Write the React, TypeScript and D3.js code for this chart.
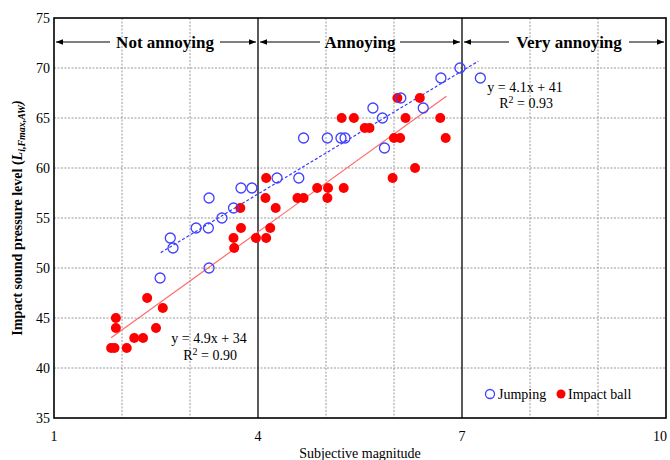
import React from 'react';
import { scaleLinear, line } from 'd3';

/* jumping: subjective magnitude vs level */
const jumpX = [2.56, 2.71, 2.75, 3.09, 3.27, 3.28, 3.28, 3.47, 3.64, 3.75, 3.91, 4.28, 4.6, 4.67, 5.02, 5.22, 5.28, 5.69, 5.83, 5.86, 6.1, 6.43, 6.69, 6.97, 7.27];
const jumpY = [49, 53, 52, 54, 54, 57, 50, 55, 56, 58, 58, 59, 59, 63, 63, 63, 63, 66, 65, 62, 67, 66, 69, 70, 69];
/* impact ball */
const ballX = [1.84, 1.89, 1.91, 1.91, 2.07, 2.18, 2.31, 2.37, 2.5, 2.6, 3.64, 3.65, 3.74, 3.75, 3.97, 4.11, 4.12, 4.12, 4.18, 4.26, 4.58, 4.67, 4.87, 5.02, 5.03, 5.23, 5.26, 5.41, 5.57, 5.64, 5.98, 6.0, 6.05, 6.09, 6.17, 6.31, 6.38, 6.68, 6.76];
const ballY = [42, 42, 45, 44, 42, 43, 43, 47, 44, 46, 53, 52, 56, 54, 53, 57, 59, 53, 54, 56, 57, 57, 58, 57, 58, 65, 58, 65, 64, 64, 59, 63, 67, 63, 65, 60, 67, 65, 63];

const xTicks = [1, 4, 7, 10];
const xGrid = [2, 3, 5, 6, 8, 9];
const yTicks = [35, 40, 45, 50, 55, 60, 65, 70, 75];
const zones = ['Not annoying', 'Annoying', 'Very annoying'];
const zoneBounds = [1, 4, 7, 10];

/* trend lines: slope, intercept, x range */
const jumpFit = { a: 4.1, b: 41, from: 2.57, to: 7.24, label: 'y = 4.1x + 41', r2: '0.93' };
const ballFit = { a: 4.9, b: 34, from: 1.84, to: 6.77, label: 'y = 4.9x + 34', r2: '0.90' };

const font = '"Liberation Serif", "Times New Roman", serif';

const App = () => {
    const x = scaleLinear().domain([1, 10]).range([54, 666]);
    const y = scaleLinear().domain([35, 75]).range([418, 18]);
    const fitLine = line<number[]>().x(d => x(d[0])).y(d => y(d[1]));
    const fitPts = (f: typeof jumpFit) => [[f.from, f.a * f.from + f.b], [f.to, f.a * f.to + f.b]];
    const arrowY = y(72.6);

    return (
        <svg width={670} height={460} style={{ position: 'absolute', left: 0, top: 0, fontFamily: font }}>
            <defs>
                <marker id='ah' viewBox='0 0 10 10' refX='10' refY='5' markerWidth='7' markerHeight='7' orient='auto-start-reverse'>
                    <path d='M0,1 L10,5 L0,9 z' fill='#000' />
                </marker>
            </defs>
            <rect x={54} y={18} width={612} height={400} fill='#fff' />
            {/* grid */}
            {yTicks.slice(1, -1).map(t => (
                <line key={'gy' + t} x1={54} x2={666} y1={y(t)} y2={y(t)} stroke='#999' strokeDasharray='2,1.5' strokeWidth={1} />
            ))}
            {xGrid.map(t => (
                <line key={'gx' + t} x1={x(t)} x2={x(t)} y1={18} y2={418} stroke='#999' strokeDasharray='2,1.5' strokeWidth={1} />
            ))}
            {[4, 7].map(t => (
                <line key={'b' + t} x1={x(t)} x2={x(t)} y1={18} y2={418} stroke='#000' strokeWidth={1.3} />
            ))}
            {/* zone arrows */}
            {zones.map((z, i) => {
                const x0 = x(zoneBounds[i]) + 2, x1 = x(zoneBounds[i + 1]) - 2;
                const cx = i === 0 ? 165 : (x0 + x1) / 2 + (i === 2 ? 5 : 0);
                const half = [52, 37, 57][i];
                return (
                    <g key={z}>
                        <line x1={cx - half - 3} x2={x0} y1={arrowY} y2={arrowY} stroke='#000' strokeWidth={1} markerEnd='url(#ah)' />
                        <line x1={cx + half + 3} x2={x1} y1={arrowY} y2={arrowY} stroke='#000' strokeWidth={1} markerEnd='url(#ah)' />
                        <text x={cx} y={arrowY + 6} textAnchor='middle' fontSize={17} fontWeight='bold'>{z}</text>
                    </g>
                );
            })}
            {/* trend lines */}
            <path d={fitLine(fitPts(ballFit) as any) || ''} stroke='#ff6b6b' strokeWidth={1.2} fill='none' />
            <path d={fitLine(fitPts(jumpFit) as any) || ''} stroke='#3a3aff' strokeWidth={1.2} strokeDasharray='3,2' fill='none' />
            {/* points */}
            {ballX.map((v, i) => (
                <circle key={'r' + i} cx={x(v)} cy={y(ballY[i])} r={5} fill='#ff0000' />
            ))}
            {jumpX.map((v, i) => (
                <circle key={'j' + i} cx={x(v)} cy={y(jumpY[i])} r={5} fill='none' stroke='#4040ff' strokeWidth={1.3} />
            ))}
            {/* equations */}
            <text x={525} y={92} textAnchor='middle' fontSize={14}>{jumpFit.label}</text>
            <text x={526} y={108} textAnchor='middle' fontSize={14}>R<tspan dy={-5} fontSize={10}>2</tspan><tspan dy={5}> = {jumpFit.r2}</tspan></text>
            <text x={209} y={343} textAnchor='middle' fontSize={14}>{ballFit.label}</text>
            <text x={210} y={360} textAnchor='middle' fontSize={14}>R<tspan dy={-5} fontSize={10}>2</tspan><tspan dy={5}> = {ballFit.r2}</tspan></text>
            {/* legend */}
            <circle cx={490} cy={394} r={4.5} fill='none' stroke='#4040ff' strokeWidth={1.3} />
            <text x={498} y={399} fontSize={14}>Jumping</text>
            <circle cx={561} cy={394} r={4.5} fill='#ff0000' />
            <text x={568} y={399} fontSize={14}>Impact ball</text>
            {/* frame */}
            <rect x={54} y={18} width={612} height={400} fill='none' stroke='#000' strokeWidth={1.6} />
            {/* axes labels */}
            {yTicks.map(t => (
                <text key={'yt' + t} x={50} y={y(t) + 5} textAnchor='end' fontSize={14}>{t}</text>
            ))}
            {xTicks.map(t => (
                <text key={'xt' + t} x={t === 10 ? 660 : x(t)} y={441} textAnchor='middle' fontSize={14}>{t}</text>
            ))}
            <text x={360} y={458} textAnchor='middle' fontSize={14}>Subjective magnitude</text>
            <text transform='translate(22,218) rotate(-90)' textAnchor='middle' fontSize={14} fontWeight='bold'>
                Impact sound pressure level (<tspan fontStyle='italic'>L</tspan>
                <tspan fontStyle='italic' fontSize={10} dy={3}>i,Fmax,AW</tspan>
                <tspan dy={-3} fontStyle='italic'>)</tspan>
            </text>
        </svg>
    );
};

export default App;
